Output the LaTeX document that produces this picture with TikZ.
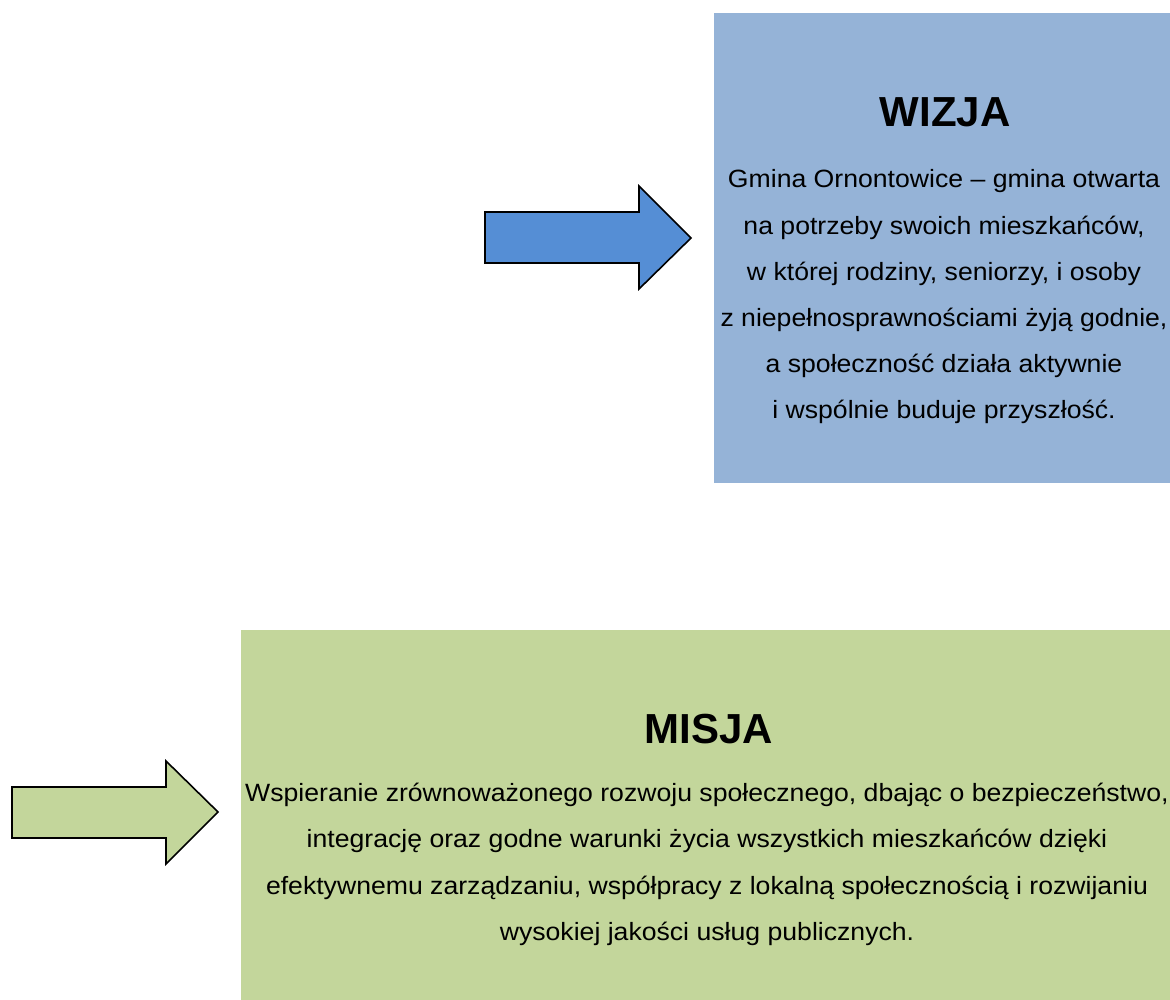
\documentclass[tikz,border=0pt]{standalone}
\usepackage{fontspec}
\setmainfont{Liberation Sans}
\newfontfamily\bodyfont[FakeStretch=1.065]{Liberation Sans}
\definecolor{boxblue}{HTML}{95B3D7}
\definecolor{boxgreen}{HTML}{C3D69B}
\definecolor{arrowblue}{HTML}{558ED5}
\begin{document}
\begin{tikzpicture}[x=1pt,y=-1pt,
  bigarrow/.style={draw=black,line width=1.6pt,line join=miter},
  titletext/.style={font=\fontsize{42}{48}\selectfont\bfseries,inner sep=0pt,anchor=base},
  bodytext/.style={font=\bodyfont\fontsize{25}{46.2}\selectfont,align=center,inner sep=0pt,anchor=north}]
\useasboundingbox (0,0) rectangle (1170,1000);
% panels
\fill[boxblue] (714,13) rectangle (1170,483);
\fill[boxgreen] (241,630) rectangle (1170,1000);
% arrows
\draw[bigarrow,fill=arrowblue] (485,212) -- (639,212) -- (639,186) -- (691,238) -- (639,289) -- (639,263) -- (485,263) -- cycle;
\draw[bigarrow,fill=boxgreen] (12,787) -- (166,787) -- (166,761) -- (218,812) -- (166,864) -- (166,838) -- (12,838) -- cycle;
% texts
\node[titletext] (wizja) at (945,127) {WIZJA};
\node[bodytext] (wizjatxt) at (944,169.5) {Gmina Ornontowice – gmina otwarta\\na potrzeby swoich mieszkańców,\\w której rodziny, seniorzy, i osoby\\z niepełnosprawnościami żyją godnie,\\a społeczność działa aktywnie\\i wspólnie buduje przyszłość.};
\node[titletext] (misja) at (709,743) {MISJA};
\node[bodytext] (misjatxt) at (707,783) {Wspieranie zrównoważonego rozwoju społecznego, dbając o bezpieczeństwo,\\integrację oraz godne warunki życia wszystkich mieszkańców dzięki\\efektywnemu zarządzaniu, współpracy z lokalną społecznością i rozwijaniu\\wysokiej jakości usług publicznych.};
\end{tikzpicture}
\end{document}
